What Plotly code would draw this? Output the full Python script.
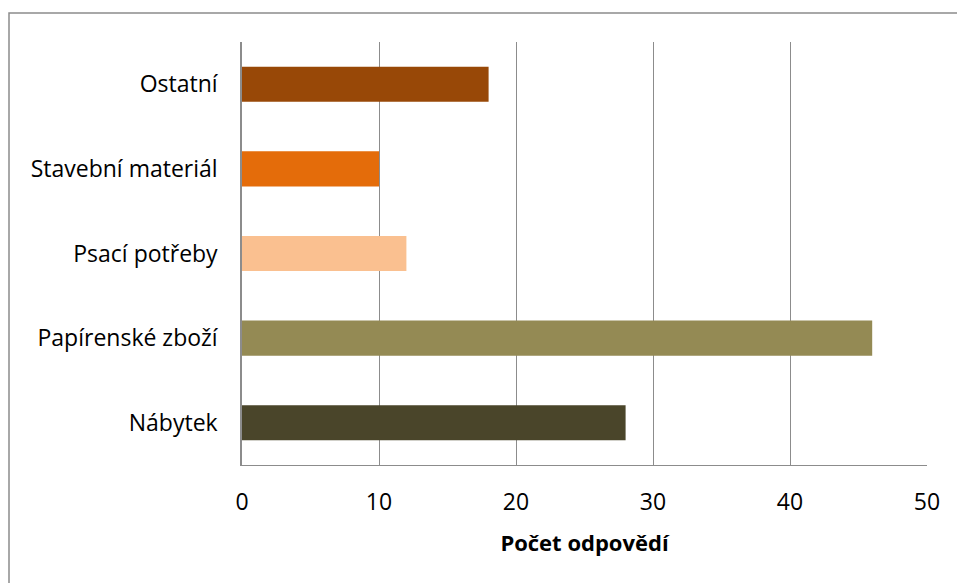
import plotly.graph_objects as go

categories = ["Nábytek", "Papírenské zboží", "Psací potřeby", "Stavební materiál", "Ostatní"]
values = [28, 46, 12, 10, 18]
colors = ["#4A452A", "#948A54", "#FAC090", "#E46C0A", "#984807"]
x_ticks = [0, 10, 20, 30, 40, 50]
x_title = "Počet odpovědí"

FONT = "'Open Sans', sans-serif"

L, R, T, B = 242, 30, 42, 118
W, H = 957, 583
PW, PH = W - L - R, H - T - B

fig = go.Figure(go.Bar(
    y=categories, x=values, orientation="h",
    marker=dict(color=colors, line=dict(width=0)),
    hoverinfo="x+y",
))

fig.update_layout(
    width=W, height=H,
    margin=dict(l=L, r=R, t=T, b=B, autoexpand=False),
    paper_bgcolor="white", plot_bgcolor="white",
    font=dict(family=FONT, size=23, color="#000000"),
    bargap=0.585,
    showlegend=False,
    shapes=[dict(type="rect", xref="paper", yref="paper",
                 x0=(9 - L) / PW, x1=(W + 20 - L) / PW,
                 y0=-(B + 20) / PH, y1=(H - B - 13) / PH,
                 line=dict(color="#8c8c8c", width=1.5), fillcolor="rgba(0,0,0,0)", layer="below")],
)
fig.update_xaxes(
    range=[0, 50], tickvals=x_ticks, showgrid=True, gridcolor="#8c8c8c", gridwidth=1,
    showline=True, linecolor="#8c8c8c", linewidth=1, mirror=False, zeroline=False,
    ticks="", ticklabelstandoff=16, automargin=False,
    title=dict(text="<b>" + x_title + "</b>", font=dict(size=22), standoff=20),
)
fig.update_yaxes(
    showgrid=False, showline=True, linecolor="#8c8c8c", linewidth=1.5,
    ticks="", ticklabelstandoff=18, automargin=False,
)

post = "document.body.style.margin='0';document.body.style.overflow='hidden';"
fig.write_html("out.html", post_script=post, config={"displayModeBar": False})
